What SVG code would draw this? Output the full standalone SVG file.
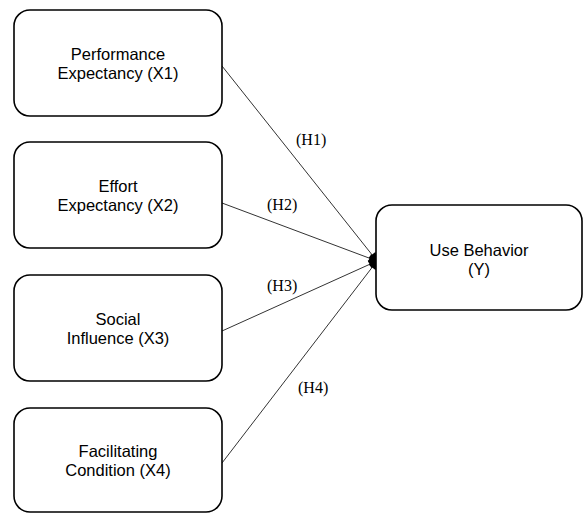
<svg xmlns="http://www.w3.org/2000/svg" width="583" height="513" viewBox="0 0 583 513">
  <style>
    .box { fill: #ffffff; stroke: #000000; stroke-width: 1.6; }
    .label { font-family: "Liberation Sans", Arial, sans-serif; font-size: 16.5px; fill: #000000; text-anchor: middle; }
    .hyp { font-family: "Liberation Serif", "Times New Roman", serif; font-size: 16px; fill: #000000; }
    .edge { stroke: #333333; stroke-width: 1; fill: none; marker-end: url(#arrow); }
  </style>
  <defs>
    <marker id="arrow" viewBox="0 0 10 10" refX="9" refY="5" markerWidth="10" markerHeight="9" markerUnits="userSpaceOnUse" orient="auto">
      <path d="M0,0 L10,5 L0,10 z" fill="#000000"/>
    </marker>
  </defs>
  <rect width="583" height="513" fill="#ffffff"/>

  <!-- connectors -->
  <g id="connectors">
    <line class="edge" x1="222" y1="66" x2="377" y2="261"/>
    <line class="edge" x1="222" y1="203" x2="377" y2="261"/>
    <line class="edge" x1="222" y1="331" x2="377" y2="261"/>
    <line class="edge" x1="222" y1="463" x2="377" y2="261"/>
    <text class="hyp" x="296" y="145">(H1)</text>
    <text class="hyp" x="267" y="210">(H2)</text>
    <text class="hyp" x="267" y="291">(H3)</text>
    <text class="hyp" x="298" y="393">(H4)</text>
  </g>

  <g id="x1">
    <rect class="box" x="14" y="10" width="208" height="106" rx="16"/>
    <text class="label" x="118" y="60">Performance</text>
    <text class="label" x="118" y="79">Expectancy (X1)</text>
  </g>
  <g id="x2">
    <rect class="box" x="14" y="142" width="208" height="106" rx="16"/>
    <text class="label" x="118" y="192">Effort</text>
    <text class="label" x="118" y="211">Expectancy (X2)</text>
  </g>
  <g id="x3">
    <rect class="box" x="14" y="275" width="208" height="106" rx="16"/>
    <text class="label" x="118" y="325">Social</text>
    <text class="label" x="118" y="344">Influence (X3)</text>
  </g>
  <g id="x4">
    <rect class="box" x="14" y="408" width="208" height="104" rx="16"/>
    <text class="label" x="118" y="457">Facilitating</text>
    <text class="label" x="118" y="476">Condition (X4)</text>
  </g>
  <g id="y">
    <rect class="box" x="376" y="205" width="206" height="105" rx="16"/>
    <text class="label" x="479" y="256">Use Behavior</text>
    <text class="label" x="479" y="275">(Y)</text>
  </g>
</svg>
